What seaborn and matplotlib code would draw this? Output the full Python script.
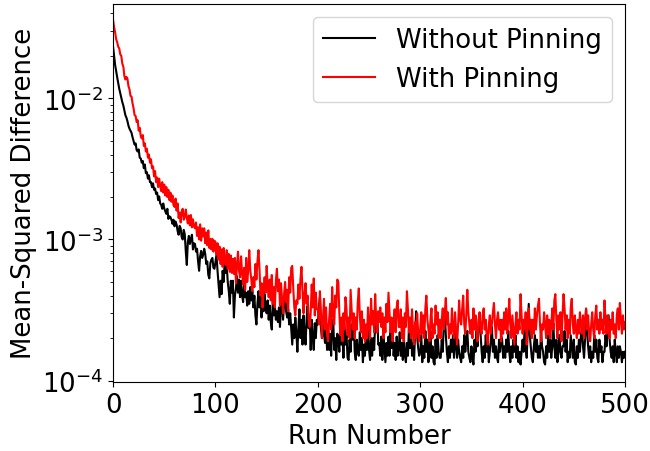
import numpy as np
import pandas as pd
import matplotlib
matplotlib.use("Agg")
import matplotlib.pyplot as plt
import seaborn as sns

# Run numbers 0..500
runs = list(range(0, 501))

# Mean-squared difference, in units of 1e-4 (one value per run)
without_pinning_e4 = [
    231, 200, 172, 155, 141, 128, 117, 109, 101, 94, 89, 82, 76, 73, 69, 64, 61, 59, 57, 53,
    50, 47, 48, 43, 42, 43.5, 38, 37.5, 35, 36, 32, 34, 29.5, 30, 27, 28.5, 25.5, 25.5, 23.5, 25,
    22.5, 23.0, 21.0, 21.5, 19.0, 20.2, 18.0, 17.6, 16.5, 18.0, 16.6, 15.8, 15.2, 16.5, 14.0, 14.6, 14.4, 13.8, 12.9, 13.8,
    12.4, 13.4, 12.8, 11.5, 10.8, 12.5, 12.0, 10.4, 10.0, 11.7, 10.9, 8.2, 6.6, 9.6, 10.6, 9.3, 10.1, 10.8, 8.5, 9.4,
    9.3, 8.2, 8.6, 7.0, 6.0, 7.6, 8.3, 7.4, 7.8, 8.6, 7.9, 6.7, 7.0, 5.6, 5.3, 6.8, 7.2, 7.4, 6.3, 6.2,
    7.0, 7.8, 6.0, 4.8, 3.9, 5.1, 4.1, 6.0, 5.0, 7.0, 5.8, 6.5, 5.0, 4.3, 3.5, 5.1, 4.2, 5.1, 2.8, 4.0,
    4.5, 5.5, 4.2, 5.2, 3.9, 5.1, 4.0, 3.6, 4.9, 3.9, 4.2, 3.4, 4.3, 3.5, 4.6, 3.7, 4.3, 3.3, 4.0, 2.9,
    2.5, 3.5, 4.3, 3.3, 4.0, 2.8, 3.8, 3.1, 4.1, 3.3, 3.0, 3.7, 2.7, 3.4, 2.6, 2.3, 3.7, 2.9, 3.4, 2.7,
    3.1, 2.6, 3.3, 2.4, 3.4, 3.7, 2.7, 3.5, 4.5, 3.1, 2.8, 3.2, 2.5, 3.0, 2.3, 1.8, 2.5, 2.0, 2.8, 2.2,
    1.6, 2.35, 3.2, 2.0, 2.7, 1.8, 2.9, 2.2, 1.8, 2.7, 3.4, 2.35, 2.9, 1.65, 2.7, 2.0, 1.65, 2.55, 2.0, 2.7,
    2.5, 3.3, 3.9, 2.35, 2.0, 2.8, 2.15, 1.85, 2.5, 1.65, 2.5, 1.65, 2.15, 1.5, 2.35, 2.7, 1.65, 2.0, 1.4, 2.15,
    1.95, 1.6, 2.5, 1.8, 2.15, 1.45, 2.35, 1.8, 2.15, 1.45, 1.4, 1.95, 1.6, 2.5, 1.95, 2.7, 1.6, 1.4, 1.95, 1.6,
    1.5, 2.2, 1.65, 2.0, 1.35, 1.8, 1.5, 2.2, 1.65, 2.4, 1.65, 1.4, 2.0, 1.5, 2.0, 1.65, 2.6, 2.2, 3.0, 1.8,
    1.85, 1.5, 2.05, 1.4, 2.2, 1.7, 1.35, 1.85, 1.5, 2.05, 1.5, 2.2, 1.7, 2.4, 1.5, 1.85, 1.4, 2.05, 1.5, 1.7,
    2.2, 1.5, 1.85, 1.4, 2.05, 1.5, 1.35, 1.85, 1.5, 2.4, 1.7, 2.6, 1.5, 1.85, 1.4, 2.2, 3.1, 2.05, 1.7, 1.5,
    1.6, 2.1, 1.35, 1.75, 1.45, 2.25, 1.6, 1.95, 1.35, 1.6, 2.25, 1.45, 1.75, 1.35, 1.3, 1.95, 1.45, 2.1, 1.6, 1.45,
    1.45, 1.95, 1.6, 2.55, 3.1, 2.1, 1.6, 1.35, 1.75, 1.45, 1.95, 1.6, 2.1, 1.45, 2.4, 1.75, 1.45, 1.95, 1.6, 1.45,
    1.35, 1.75, 1.45, 2.1, 1.6, 1.95, 2.25, 1.6, 1.45, 1.35, 1.75, 1.45, 1.3, 1.95, 1.6, 2.25, 1.75, 2.55, 3.0, 2.1,
    1.6, 1.35, 1.75, 1.45, 2.1, 1.6, 1.95, 1.35, 1.6, 1.95, 2.4, 1.6, 1.95, 1.45, 1.75, 1.45, 1.35, 1.95, 1.6, 2.1,
    1.95, 1.45, 1.75, 1.45, 1.95, 1.6, 2.25, 1.6, 1.35, 1.75, 1.45, 1.95, 1.6, 2.1, 1.45, 1.75, 1.35, 1.6, 1.3, 1.6,
    1.95, 1.6, 2.4, 1.75, 1.45, 2.25, 3.5, 2.1, 1.75, 1.45, 1.35, 1.75, 2.1, 1.6, 1.95, 1.45, 1.75, 1.45, 2.25, 1.75,
    1.6, 1.35, 1.3, 1.75, 1.45, 2.1, 1.6, 1.95, 1.45, 1.75, 2.55, 1.75, 1.45, 1.95, 1.35, 1.6, 2.1, 1.6, 1.45, 1.75,
    1.75, 2.25, 1.6, 1.95, 1.35, 1.6, 1.45, 2.1, 1.75, 1.45, 1.95, 1.35, 1.3, 1.75, 1.45, 1.95, 1.6, 2.1, 2.4, 1.75,
    1.45, 1.95, 3.2, 2.25, 1.75, 1.45, 1.75, 1.35, 1.6, 1.45, 2.1, 1.6, 1.95, 1.45, 1.35, 1.95, 1.6, 1.75, 1.35, 1.6,
    1.6, 2.1, 1.75, 2.25, 2.9, 1.95, 1.6, 1.45, 1.75, 1.35, 1.95, 1.6, 1.35, 1.75, 1.45, 1.75, 1.6, 1.35, 1.6, 1.45,
    1.6,
]

with_pinning_e4 = [
    359, 318, 294, 262, 250, 232, 226, 205, 200, 176, 168, 144, 136, 142, 138, 122, 116, 104, 103, 92,
    85, 76, 75, 68, 70, 59, 62, 54, 52, 55, 46, 48, 42, 44, 38, 40, 35, 37, 32, 33,
    28, 30.5, 25.5, 27.5, 23.5, 27, 24, 22, 25.5, 21.5, 24.5, 20.5, 23.5, 20, 22.5, 19, 21.5, 18.5, 20.5, 17.5,
    17.0, 19.5, 16.0, 18.0, 14.2, 15.5, 13.2, 15.8, 16.5, 13.8, 14.5, 16.3, 14.2, 13.0, 14.8, 12.6, 14.9, 12.2, 13.9, 12.4,
    12.0, 13.2, 10.6, 12.2, 10.0, 12.8, 9.8, 12.0, 10.5, 12.0, 9.4, 11.2, 9.1, 11.6, 8.7, 10.1, 8.5, 10.1, 8.2, 9.8,
    9.6, 7.8, 9.4, 7.2, 8.9, 6.7, 8.5, 6.4, 8.7, 6.9, 6.6, 8.4, 6.2, 7.9, 5.9, 7.7, 5.8, 7.3, 5.7, 7.4,
    4.9, 6.5, 8.2, 6.0, 5.4, 7.6, 5.8, 4.8, 6.3, 4.4, 7.4, 5.0, 6.0, 8.4, 6.1, 5.2, 4.3, 5.4, 4.6, 6.7,
    5.2, 7.0, 8.4, 6.2, 4.0, 4.9, 3.3, 4.4, 5.4, 4.2, 6.5, 4.6, 3.9, 5.2, 3.7, 5.6, 3.5, 4.6, 3.3, 5.1,
    6.2, 4.3, 5.2, 3.4, 4.9, 3.8, 3.0, 4.0, 5.0, 3.6, 4.4, 3.1, 5.4, 4.2, 6.3, 6.5, 4.5, 3.3, 2.9, 3.7,
    3.5, 4.8, 3.8, 5.2, 6.4, 4.3, 3.0, 4.1, 4.9, 3.5, 4.0, 2.7, 2.4, 3.0, 4.8, 3.3, 5.3, 2.9, 4.2, 3.2,
    3.2, 2.5, 4.3, 3.0, 2.0, 2.8, 3.8, 2.3, 3.3, 2.1, 1.9, 2.7, 3.5, 2.3, 4.6, 3.0, 2.5, 4.0, 3.3, 5.2,
    5.0, 3.0, 2.1, 2.8, 1.9, 3.0, 2.3, 3.9, 3.2, 2.1, 2.8, 2.0, 4.4, 3.2, 2.3, 3.0, 2.0, 2.8, 2.3, 3.6,
    4.5, 2.9, 2.2, 3.1, 2.0, 2.7, 1.9, 2.5, 2.0, 3.3, 2.5, 2.0, 3.8, 2.5, 3.1, 2.2, 4.1, 2.7, 2.2, 3.1,
    2.6, 3.3, 2.4, 3.0, 2.0, 2.8, 2.2, 3.5, 2.6, 4.2, 3.0, 2.2, 2.8, 1.9, 2.6, 3.2, 2.2, 3.3, 3.7, 2.4,
    2.4, 3.2, 2.0, 2.8, 1.9, 3.0, 2.4, 4.3, 3.2, 2.2, 2.8, 2.0, 3.2, 2.2, 1.8, 2.6, 2.0, 3.0, 2.2, 1.9,
    2.3, 3.05, 2.15, 2.9, 2.0, 3.25, 4.0, 2.7, 2.3, 1.9, 2.7, 3.25, 2.0, 2.5, 2.15, 3.4, 2.5, 3.05, 2.0, 2.7,
    2.0, 2.7, 3.25, 2.3, 3.05, 3.85, 2.5, 3.05, 2.0, 2.5, 2.15, 3.25, 2.3, 2.0, 3.05, 2.3, 1.8, 2.5, 3.7, 2.7,
    2.5, 3.25, 4.0, 2.5, 2.15, 2.9, 4.4, 3.05, 2.5, 2.15, 2.7, 2.0, 3.25, 2.3, 2.9, 2.15, 1.9, 2.7, 3.05, 2.3,
    2.15, 2.9, 3.25, 2.3, 2.7, 2.0, 1.8, 2.5, 2.9, 2.15, 2.5, 3.05, 3.55, 2.5, 2.0, 2.7, 3.05, 2.3, 2.7, 1.9,
    2.7, 2.15, 3.05, 2.3, 3.25, 2.15, 2.7, 3.8, 2.5, 2.0, 2.9, 2.3, 1.8, 2.5, 3.05, 2.15, 2.7, 2.3, 4.1, 2.9,
    2.15, 2.7, 2.3, 3.05, 1.8, 2.5, 3.25, 2.3, 2.7, 2.0, 2.7, 2.15, 3.25, 2.3, 2.9, 3.4, 3.8, 2.5, 1.9, 2.5,
    2.3, 3.05, 2.5, 2.0, 2.9, 2.15, 2.7, 2.0, 2.5, 3.25, 2.3, 3.7, 4.1, 2.7, 2.0, 2.9, 2.3, 3.05, 1.9, 2.9,
    4.1, 3.25, 2.3, 2.9, 2.0, 2.7, 2.15, 3.25, 3.8, 2.5, 2.15, 2.9, 2.3, 2.0, 2.7, 2.15, 3.05, 2.5, 2.15, 2.9,
    2.0, 2.7, 3.25, 2.3, 2.9, 2.15, 1.9, 2.5, 3.05, 2.3, 2.0, 2.9, 3.4, 2.3, 2.7, 2.15, 3.05, 2.3, 2.7, 2.15,
    3.7, 2.7, 2.15, 2.9, 2.5, 2.0, 2.7, 2.3, 3.05, 2.15, 2.5, 2.0, 2.9, 3.25, 2.3, 3.55, 2.7, 2.15, 2.9, 2.3,
    2.6,
]

series_labels = ["Without Pinning", "With Pinning"]
series_colors = ["black", "red"]
x_ticks = [0, 100, 200, 300, 400, 500]

df = pd.DataFrame({
    "Run Number": runs * 2,
    "MSD": list(np.array(without_pinning_e4) * 1e-4) + list(np.array(with_pinning_e4) * 1e-4),
    "Series": [series_labels[0]] * len(runs) + [series_labels[1]] * len(runs),
})

FS = 18.7
fig, ax = plt.subplots(figsize=(6.5, 4.52), dpi=100)
fig.subplots_adjust(left=0.174, right=0.9615, top=0.990, bottom=0.153)

for lab, col in zip(series_labels, series_colors):
    sub = df[df["Series"] == lab]
    sns.lineplot(data=sub, x="Run Number", y="MSD", color=col, label=lab,
                 linewidth=1.5, ax=ax, errorbar=None)

ax.set_yscale("log")
ax.set_xlim(0, 500)
ax.set_ylim(9.8e-5, 0.047)
ax.set_xticks(x_ticks)
ax.set_xlabel("Run Number", fontsize=FS)
ax.set_ylabel("Mean-Squared Difference", fontsize=FS)
ax.tick_params(axis="both", which="major", labelsize=FS)
ax.legend(loc="upper right", fontsize=FS)

fig.savefig("out.png", dpi=100)
